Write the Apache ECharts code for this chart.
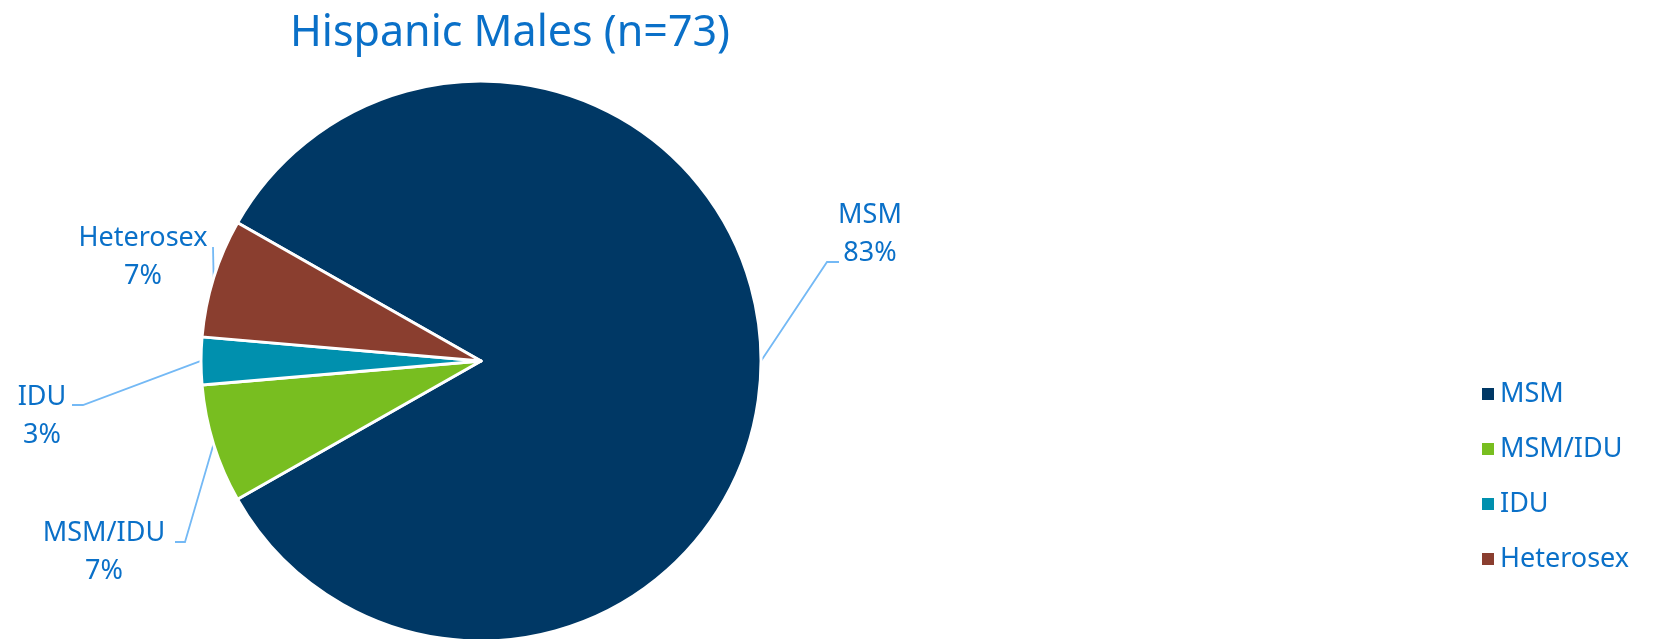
<!DOCTYPE html>
<html>
<head>
<meta charset="utf-8">
<title>Hispanic Males (n=73)</title>
<script src="https://cdn.jsdelivr.net/npm/echarts@6/dist/echarts.min.js"></script>
<style>
  html, body { margin: 0; padding: 0; background: #fff; }
  #chartId { width: 1653px; height: 639px; }
</style>
</head>
<body>
<div id="chartId"></div>
<script>
// case counts (n=73)
const categories = ['MSM', 'MSM/IDU', 'IDU', 'Heterosex']
const counts = [61, 5, 2, 5]
const percents = ['83%', '7%', '3%', '7%']
const colors = ['#003865', '#78BE20', '#0090AE', '#8A3E2F']

// where excel put each data label (label centre, elbow, end of leader line)
const labelSpots = [
  { x: 870, y: 234, elbow: [827, 262], end: [839, 262] },
  { x: 104, y: 552, elbow: [185, 542], end: [175, 542] },
  { x: 42, y: 416, elbow: [83, 405], end: [72, 405] },
  { x: 143, y: 257, elbow: [213, 247], end: [213, 247] }
]

const textBlue = '#0A70C8'
const font = '"Noto Sans", "Open Sans", sans-serif'

const myPieChart = echarts.init(document.getElementById('chartId'))

myPieChart.setOption({
  animation: false,
  title: {
    text: 'Hispanic Males (n=73)',
    left: 505,
    textAlign: 'center',
    top: 7,
    textStyle: {
      color: textBlue,
      fontFamily: font,
      fontWeight: 'normal',
      fontSize: 43
    }
  },
  legend: {
    orient: 'vertical',
    left: 1475,
    top: 375,
    icon: 'rect',
    itemWidth: 14,
    itemHeight: 14,
    itemGap: 27,
    data: categories,
    textStyle: {
      color: textBlue,
      fontFamily: font,
      fontSize: 27,
      lineHeight: 28,
      padding: [0, 0, 0, 0]
    }
  },
  series: [
    {
      type: 'pie',
      center: [481, 361],
      radius: 280,
      startAngle: 150.4,
      clockwise: true,
      avoidLabelOverlap: false,
      itemStyle: {
        borderColor: '#fff',
        borderWidth: 3
      },
      label: {
        show: true,
        position: 'outside',
        formatter: (p) => p.name + '\n' + percents[p.dataIndex],
        color: textBlue,
        fontFamily: font,
        fontSize: 27,
        lineHeight: 38,
        align: 'center'
      },
      labelLine: {
        show: true,
        length: 20,
        length2: 20,
        lineStyle: {
          color: '#74B9F5',
          width: 1.8
        }
      },
      labelLayout: (params) => {
        const spot = labelSpots[params.dataIndex]
        const start = params.labelLinePoints ? params.labelLinePoints[0] : spot.elbow
        return {
          x: spot.x,
          y: spot.y,
          align: 'center',
          verticalAlign: 'middle',
          labelLinePoints: [start, spot.elbow, spot.end]
        }
      },
      data: categories.map((name, i) => ({
        name,
        value: counts[i],
        itemStyle: { color: colors[i] }
      }))
    }
  ]
})
</script>
</body>
</html>
